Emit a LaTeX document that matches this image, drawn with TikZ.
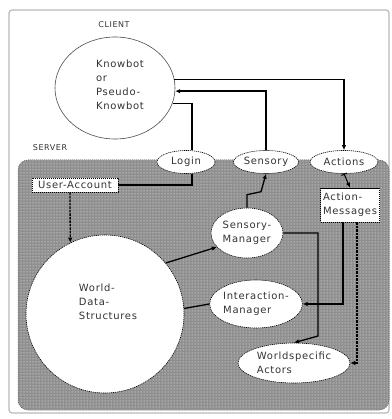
\documentclass[tikz,border=0pt]{standalone}
\usepackage{fontspec}
\setmainfont{DejaVu Sans}[LetterSpace=7]
\usetikzlibrary{shapes.geometric,arrows.meta,patterns}
\tikzset{
  lbl/.style={font=\fontsize{10}{14}\selectfont, text=black!80},
  elbox/.style={ellipse, draw=black, line width=0.6pt, dash pattern=on 1.2pt off 0.8pt, fill=white, inner sep=0pt, align=left, lbl},
  rbox/.style={rectangle, draw=black, line width=0.6pt, dash pattern=on 1.2pt off 0.8pt, fill=white, inner sep=0pt, align=left, lbl},
  conn/.style={line width=1.3pt, black},
  dconn/.style={conn, dash pattern=on 2.5pt off 1pt},
  arr/.style={-{Latex[length=5pt,width=4.5pt]}},
  headlbl/.style={font=\fontsize{8}{10}\selectfont, text=black!80},
}
\begin{document}
\begin{tikzpicture}[x=1pt,y=-1pt]
\useasboundingbox (0,0) rectangle (391,419);
\fill[white] (0,0) rectangle (391,419);
% frame
\draw[gray!55, line width=1.2pt, rounded corners=3pt] (9,10) rectangle (389,413);
% server region
\fill[black!44, rounded corners=10pt] (18,160) rectangle (389,410);
\fill[pattern=dots, pattern color=white, rounded corners=10pt] (18,160) rectangle (389,410);
\draw[black!70, line width=0.5pt, dash pattern=on 1pt off 1pt, rounded corners=10pt] (18,160) rectangle (389,410);

\node[headlbl] (clientlbl) at (114,25) {CLIENT};
\node[headlbl] (serverlbl) at (50,148) {SERVER};

\node[ellipse, draw=black!70, line width=0.6pt, fill=white, minimum width=120pt, minimum height=102pt, inner sep=0pt] (client) at (115,88) {};
\node[lbl, align=left] (clienttxt) at (120,85) {Knowbot\\or\\Pseudo-\\Knowbot};

\node[elbox, minimum width=58pt, minimum height=23pt] (login) at (186,162) {Login};
\node[elbox, minimum width=65pt, minimum height=23pt] (sensory) at (266,162) {Sensory};
\node[elbox, minimum width=68pt, minimum height=23pt] (actions) at (344,162) {Actions};

\node[rbox, minimum width=86pt, minimum height=14pt] (useracc) at (75,185) {User-Account};
\node[rbox, minimum width=59pt, minimum height=34pt] (actmsg) at (350,205) {Action-\\Messages};

\node[circle, draw=black, line width=0.6pt, dash pattern=on 1.2pt off 0.8pt, fill=white, minimum size=158pt, inner sep=0pt] (world) at (105,314) {};
\node[lbl, align=left] (worldtxt) at (108,302) {World-\\Data-\\Structures};

\node[elbox, minimum width=72pt, minimum height=50pt] (sensmgr) at (247,233) {Sensory-\\Manager};
\node[elbox, minimum width=88pt, minimum height=48pt] (intmgr) at (256,304) {Interaction-\\Manager};
\node[elbox, minimum width=112pt, minimum height=40pt] (actors) at (294,363) {Worldspecific\\Actors};

% connectors
\draw[conn,arr] (client.8) -| (actions.north);
\draw[conn,arr] (sensory.north) |- (client.-3);
\draw[conn] ([xshift=6pt]login.north) |- (client.-15);
\draw[conn] (useracc.east) -| ([xshift=6pt]login.south);
\draw[dconn,arr] ([xshift=-5pt]useracc.south) -- (world.116);
\draw[conn,arr] (world.40) -- (sensmgr.205);
\draw[conn] (world.4) -- (intmgr.west);
\draw[conn,arr] (sensmgr.north) -- ++(0,-13) -- ++(14,-3) -- (sensory.south);
\coordinate (bend) at (318,336);
\draw[conn,arr] (sensmgr.east) -| (bend) -- (actors.north);
\draw[conn,arr] ([xshift=-7pt]actmsg.south) |- (intmgr.east);
\draw[dconn,arr] ([xshift=7pt]actmsg.south) |- (actors.east);
\draw[line width=1pt, {Bar[width=6pt]}-{Latex[length=5pt,width=4.5pt]}] (actions.south) -- (actmsg.north);
\end{tikzpicture}
\end{document}
